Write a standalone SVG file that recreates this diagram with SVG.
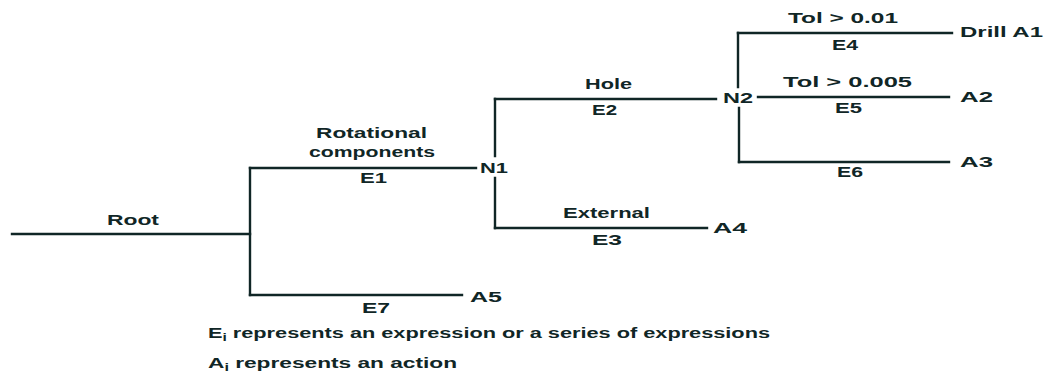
<svg xmlns="http://www.w3.org/2000/svg" width="1051" height="378" viewBox="0 0 1051 378">
<style>
  .ln { stroke: #102626; stroke-width: 2.4; fill: none; stroke-linecap: square; }
  .t { font-family: "Liberation Sans", Arial, sans-serif; font-size: 14px; font-weight: bold; fill: #102626; }
  .lg { font-family: "Liberation Sans", Arial, sans-serif; font-size: 14px; font-weight: bold; fill: #102626; }
</style>
<rect width="1051" height="378" fill="#ffffff"/>
<g id="connectors">
  <path class="ln" d="M12,234 H250"/>
  <path class="ln" d="M250,168 V295"/>
  <path class="ln" d="M250,168 H476"/>
  <path class="ln" d="M250,295 H462"/>
  <path class="ln" d="M495,99 V156 M495,178 V228"/>
  <path class="ln" d="M495,99 H716"/>
  <path class="ln" d="M495,228 H707"/>
  <path class="ln" d="M738,33 V87 M739,108 V162"/>
  <path class="ln" d="M738,33 H952"/>
  <path class="ln" d="M758,97 H949"/>
  <path class="ln" d="M739,162 H949"/>
</g>
<g id="edge-labels">
  <text class="t" x="107" y="225" textLength="52" lengthAdjust="spacingAndGlyphs">Root</text>
  <text class="t" x="316" y="138" textLength="111" lengthAdjust="spacingAndGlyphs">Rotational</text>
  <text class="t" x="309" y="157" textLength="126" lengthAdjust="spacingAndGlyphs">components</text>
  <text class="t" x="360" y="183" textLength="27" lengthAdjust="spacingAndGlyphs">E1</text>
  <text class="t" x="362" y="313" textLength="28" lengthAdjust="spacingAndGlyphs">E7</text>
  <text class="t" x="585" y="89" textLength="47" lengthAdjust="spacingAndGlyphs">Hole</text>
  <text class="t" x="592" y="115" textLength="25" lengthAdjust="spacingAndGlyphs">E2</text>
  <text class="t" x="563" y="218" textLength="87" lengthAdjust="spacingAndGlyphs">External</text>
  <text class="t" x="592" y="245" textLength="30" lengthAdjust="spacingAndGlyphs">E3</text>
  <text class="t" x="788" y="23" textLength="110" lengthAdjust="spacingAndGlyphs">Tol &gt; 0.01</text>
  <text class="t" x="832" y="50" textLength="26" lengthAdjust="spacingAndGlyphs">E4</text>
  <text class="t" x="783" y="87" textLength="129" lengthAdjust="spacingAndGlyphs">Tol &gt; 0.005</text>
  <text class="t" x="835" y="113" textLength="27" lengthAdjust="spacingAndGlyphs">E5</text>
  <text class="t" x="837" y="177" textLength="26" lengthAdjust="spacingAndGlyphs">E6</text>
</g>
<g id="N1"><text class="t" x="480" y="173" textLength="28" lengthAdjust="spacingAndGlyphs">N1</text></g>
<g id="N2"><text class="t" x="723" y="103" textLength="30" lengthAdjust="spacingAndGlyphs">N2</text></g>
<g id="A1"><text class="t" x="960" y="37" textLength="83" lengthAdjust="spacingAndGlyphs">Drill A1</text></g>
<g id="A2"><text class="t" x="960" y="102" textLength="33" lengthAdjust="spacingAndGlyphs">A2</text></g>
<g id="A3"><text class="t" x="960" y="167" textLength="33" lengthAdjust="spacingAndGlyphs">A3</text></g>
<g id="A4"><text class="t" x="713" y="233" textLength="34" lengthAdjust="spacingAndGlyphs">A4</text></g>
<g id="A5"><text class="t" x="470" y="302" textLength="32" lengthAdjust="spacingAndGlyphs">A5</text></g>
<g id="legend">
  <text class="lg" x="208" y="338" textLength="562" lengthAdjust="spacingAndGlyphs">E<tspan font-size="10" dy="3">i</tspan><tspan dy="-3"> represents an expression or a series of expressions</tspan></text>
  <text class="lg" x="208" y="368" textLength="249" lengthAdjust="spacingAndGlyphs">A<tspan font-size="10" dy="3">i</tspan><tspan dy="-3"> represents an action</tspan></text>
</g>
</svg>
